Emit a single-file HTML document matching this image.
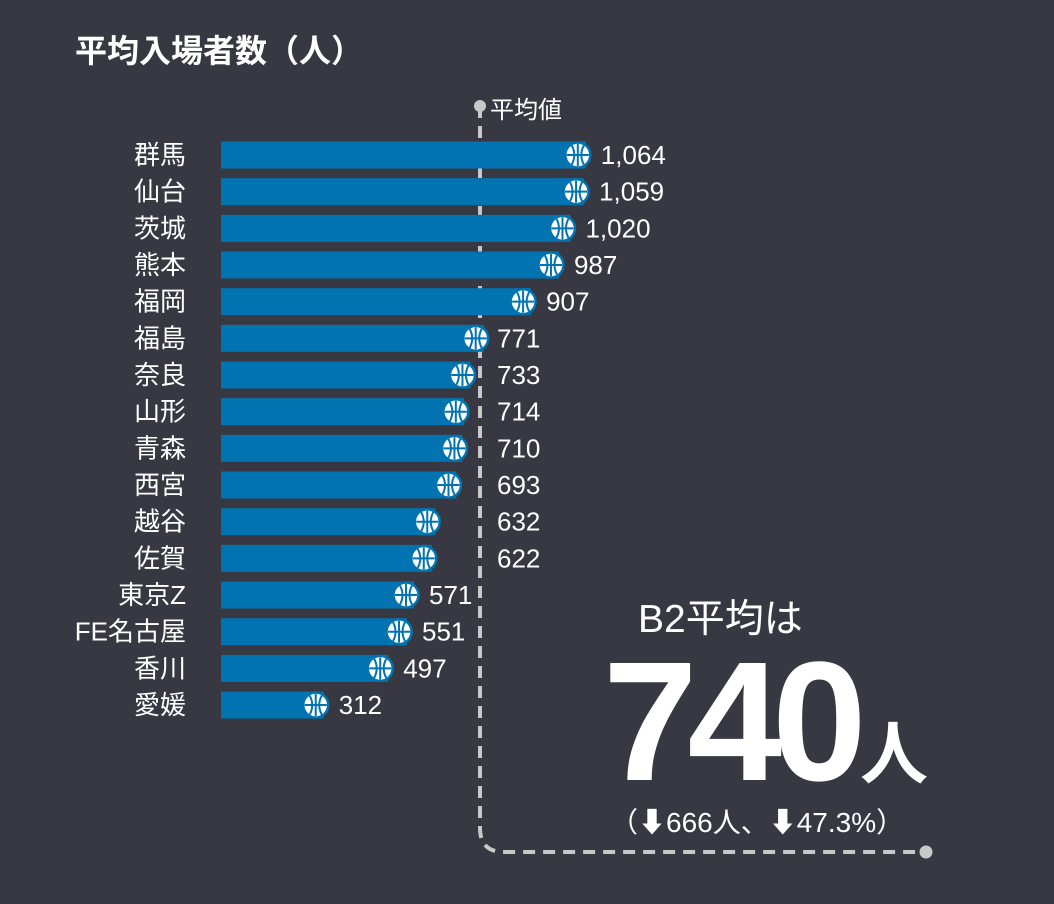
<!DOCTYPE html>
<html><head><meta charset="utf-8"><style>
html,body{margin:0;padding:0;background:#383842;}
svg{display:block}
text{font-family:"Liberation Sans","Noto Sans CJK JP",sans-serif;fill:#fff}
</style></head><body>
<svg width="1054" height="904" viewBox="0 0 1054 904" xmlns="http://www.w3.org/2000/svg">
<defs>
<g id="ball">
<circle r="12.5" fill="#fff" stroke="#0073b0" stroke-width="2.5"/>
<path d="M0,-11V11M-11,0H11M-6,-9.5Q-1,0 -6,9.5M6,-9.5Q1,0 6,9.5" stroke="#0073b0" stroke-width="2" fill="none"/>
</g>
</defs>
<rect width="1054" height="904" fill="#383842"/>
<text x="75" y="62" font-size="32" font-weight="bold">平均入場者数（人）</text>
<path d="M480,106 V828 Q480,852 504,852 H926" stroke="#c8c8c8" stroke-width="4" fill="none" stroke-dasharray="12,8"/>
<circle cx="480" cy="106" r="6" fill="#c8c8c8"/>
<circle cx="926" cy="852" r="6.5" fill="#c8c8c8"/>
<text x="490" y="118" font-size="24">平均値</text>
<g font-size="26">
<g id="rows"></g>
</g>
<script>
var d=[["群馬",1064,"1,064"],["仙台",1059,"1,059"],["茨城",1020,"1,020"],["熊本",987,"987"],["福岡",907,"907"],["福島",771,"771"],["奈良",733,"733"],["山形",714,"714"],["青森",710,"710"],["西宮",693,"693"],["越谷",632,"632"],["佐賀",622,"622"],["東京Z",571,"571"],["FE名古屋",551,"551"],["香川",497,"497"],["愛媛",312,"312"]];
var ns="http://www.w3.org/2000/svg",g=document.getElementById("rows");
d.forEach(function(r,i){
var c=155+i*36.67,end=221+r[1]*0.3485;
var b=document.createElementNS(ns,"rect");b.setAttribute("x",221);b.setAttribute("y",c-13.5);b.setAttribute("width",end-221-6);b.setAttribute("height",27);b.setAttribute("fill","#0073b0");g.appendChild(b);
var u=document.createElementNS(ns,"use");u.setAttribute("href","#ball");u.setAttribute("transform","translate("+(end-14)+","+c+")");g.appendChild(u);
var l=document.createElementNS(ns,"text");l.setAttribute("x",186);l.setAttribute("y",c+9);l.setAttribute("text-anchor","end");l.textContent=r[0];g.appendChild(l);
var lx=end+9;if(r[1]<=771&&r[1]>=622)lx=497;
var v=document.createElementNS(ns,"text");v.setAttribute("x",lx);v.setAttribute("y",c+9);v.textContent=r[2];g.appendChild(v);
});
</script>
<text x="638" y="632" font-size="39">B2平均は</text>
<text x="603" y="780" font-size="170" font-weight="bold" letter-spacing="-10">740</text>
<text x="860" y="778" font-size="68" font-weight="bold">人</text>
<text x="610" y="832" font-size="28">（⬇666人、⬇47.3%）</text>
</svg>
</body></html>
